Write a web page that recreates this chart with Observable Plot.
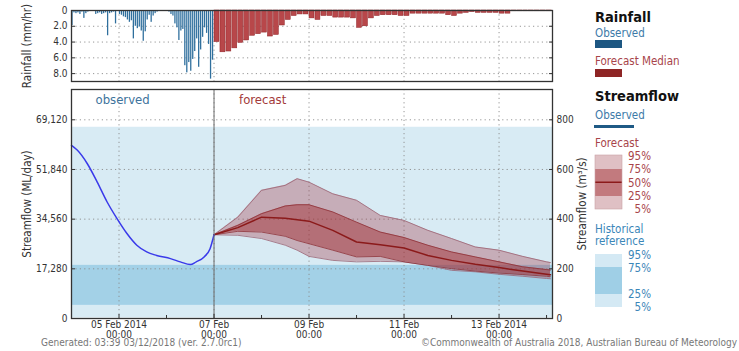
<!DOCTYPE html>
<html><head><meta charset="utf-8">
<script src="https://cdn.jsdelivr.net/npm/d3@7"></script>
<script src="https://cdn.jsdelivr.net/npm/@observablehq/plot@0.6"></script>
<style>
body{margin:0;background:#fff;}
#root{position:relative;width:739px;height:351px;overflow:hidden;font-family:"DejaVu Sans Condensed","DejaVu Sans",sans-serif;}
#root svg{position:absolute;left:0;top:0;}
.foot{position:absolute;font-size:10px;color:#777;white-space:nowrap;line-height:12px;}
</style></head><body><div id="root"></div>
<script>
// ---------- data ----------
const flowTicks = [0, 200, 400, 600, 800];               // m3/s
const rainTicks = [0, 2, 4, 6, 8];                        // mm/hr
const majorTickDays = [5, 7, 9, 11, 13];
const majorTickLabels = ["05 Feb 2014\n00:00", "07 Feb\n00:00", "09 Feb\n00:00", "11 Feb\n00:00", "13 Feb 2014\n00:00"];
const minorTickDays = [6, 8, 10, 12, 14];

// observed streamflow (hours after 04 Feb 00:00, m3/s)
const obsFlowHours = [0, 3, 8, 13, 18, 23, 28, 33, 38, 43, 50, 55, 60, 63, 67, 70, 72];
const obsFlow      = [697, 677, 623, 549, 469, 402, 342, 295, 268, 254, 241, 228, 217, 228, 248, 281, 337];

// forecast streamflow percentiles (hours after 07 Feb 00:00, m3/s)
const fcHours = [0, 12, 24, 36, 42, 48, 60, 72, 84, 96, 108, 120, 132, 144, 156, 168, 170];
const fcP95 = [337, 408, 516, 536, 563, 549, 502, 476, 415, 395, 355, 322, 288, 275, 250, 228, 225];
const fcP75 = [337, 375, 422, 453, 458, 458, 429, 388, 348, 326, 295, 268, 248, 228, 208, 197, 195];
const fcP50 = [337, 366, 408, 404, 398, 392, 355, 308, 297, 284, 254, 234, 218, 205, 191, 178, 176];
const fcP25 = [337, 351, 348, 331, 314, 301, 275, 248, 250, 228, 214, 201, 191, 183, 177, 170, 168];
const fcP5  = [337, 335, 322, 295, 275, 250, 234, 228, 230, 228, 214, 194, 188, 178, 170, 161, 160];

// historical reference percentiles (m3/s)
const histP5 = 2, histP25 = 53, histP75 = 214, histP95 = 770;

// observed rainfall, hourly from 04 Feb 00:00 (mm/hr)
const obsRain = [1.9,0.3,0.4,0.3,0.5,0.2,1.0,0.4,0.2,0.1,0.0,0.1,
  0.5,0.4,0.3,0.5,0.4,0.3,3.2,0.4,0.3,0.2,1.7,0.0,
  0.5,0.6,0.8,0.9,1.2,1.5,1.3,3.6,2.0,2.3,2.1,2.6,
  3.9,2.7,1.2,0.6,1.5,0.7,0.4,0.2,0.1,0.1,0.1,0.0,
  0.1,0.2,0.5,0.7,1.7,2.2,3.8,2.6,2.4,7.0,7.9,6.6,
  7.7,6.2,5.2,3.6,7.2,5.0,3.4,2.2,2.9,4.3,8.7,6.3];
// forecast median rainfall, 3-hourly from 07 Feb 00:00 (mm/hr)
const fcRain = [4.0,5.3,5.2,4.8,4.1,3.8,3.2,3.0,2.8,3.3,3.1,1.9,1.2,0.7,0.5,0.5,1.0,1.2,0.7,0.7,0.9,0.9,0.9,1.0,2.2,2.0,
  1.0,0.7,0.6,0.6,0.6,0.7,0.7,0.4,0.4,0.4,0.4,0.4,0.4,0.6,0.7,0.4,0.3,0.2,0.3,0.3,0.3,0.3,0.4,0.4,0.1,0.1,0.1,0.1,0.1,0.1,0.1];

// legend texts
const legendRain = ["Rainfall", "Observed", "Forecast Median"];
const legendFlow = ["Streamflow", "Observed", "Forecast"];
const fcPctLabels = ["95%", "75%", "50%", "25%", "5%"];
const histTitle = ["Historical", "reference"];
const histPctLabels = ["95%", "75%", "25%", "5%"];
const footLeft = "Generated: 03:39 03/12/2018 (ver. 2.7.0rc1)";
const footRight = "\u00a9Commonwealth of Australia 2018, Australian Bureau of Meteorology";

// ---------- build ----------
const FONT = '"DejaVu Sans Condensed","DejaVu Sans",sans-serif';
const H = 3600e3;
const utc = (d, h = 0) => new Date(Date.UTC(2014, 1, d, h));
const T0 = utc(4), T1 = utc(14, 3), FC0 = utc(7);
const obs = obsFlowHours.map((h, i) => ({t: new Date(+T0 + h * H), v: obsFlow[i]}));
const fc = fcHours.map((h, i) => ({t: new Date(+FC0 + h * H), p5: fcP5[i], p25: fcP25[i], p50: fcP50[i], p75: fcP75[i], p95: fcP95[i]}));
const hist = [{lo: histP5, hi: histP95, c: "#d8ebf4"}, {lo: histP25, hi: histP75, c: "#a3d1e7"}];
const major = majorTickDays.map(d => utc(d));
const minor = minorTickDays.map(d => utc(d));
const labelOf = new Map(major.map((d, i) => [+d, majorTickLabels[i]]));
const rObs = obsRain.map((v, i) => ({t1: new Date(+T0 + i * H), t2: new Date(+T0 + (i + 1) * H), v}));
const rFc = fcRain.map((v, i) => ({t1: new Date(+FC0 + i * 3 * H), t2: new Date(+FC0 + (i + 1) * 3 * H), v}));
const grid = {stroke: "#8a8a8a", strokeOpacity: 1, strokeDasharray: "1.2,3.2", strokeWidth: 0.9};

const root = document.getElementById("root");

const main = Plot.plot({
  width: 739, height: 351, marginLeft: 71, marginRight: 187, marginTop: 89, marginBottom: 33,
  style: {fontFamily: FONT, fontSize: "10px", color: "#333", background: "transparent", overflow: "visible"},
  x: {type: "utc", domain: [T0, T1], axis: null},
  y: {domain: [0, 922], axis: null},
  marks: [
    Plot.rect(hist, {y1: "lo", y2: "hi", fill: "c"}),
    Plot.gridY(flowTicks.slice(1), grid),
    Plot.gridX(major, grid),
    Plot.areaY(fc, {x: "t", y1: "p5", y2: "p95", fill: "#a03040", fillOpacity: 0.33}),
    Plot.lineY(fc, {x: "t", y: "p95", stroke: "#9a6272", strokeWidth: 0.8}),
    Plot.lineY(fc, {x: "t", y: "p5", stroke: "#9a6272", strokeWidth: 0.8}),
    Plot.areaY(fc, {x: "t", y1: "p25", y2: "p75", fill: "#a02c30", fillOpacity: 0.48}),
    Plot.lineY(fc, {x: "t", y: "p75", stroke: "#8e3036", strokeWidth: 0.8}),
    Plot.lineY(fc, {x: "t", y: "p25", stroke: "#8e3036", strokeWidth: 0.8}),
    Plot.lineY(fc, {x: "t", y: "p50", stroke: "#8b1a1a", strokeWidth: 1.5}),
    Plot.lineY(obs, {x: "t", y: "v", stroke: "#3a3aea", strokeWidth: 1.5, curve: "monotone-x"}),
    Plot.ruleX([FC0], {stroke: "#6a6a6a", strokeWidth: 1}),
    Plot.text(["observed"], {frameAnchor: "top-left", dx: 24, dy: 5, textAnchor: "start", lineAnchor: "top", fill: "#3d739c", fontSize: 13}),
    Plot.text([FC0], {x: d => d, frameAnchor: "top", dx: 25, dy: 5, text: () => "forecast", textAnchor: "start", lineAnchor: "top", fill: "#a33a3a", fontSize: 13}),
    Plot.frame({stroke: "#333", strokeWidth: 1.3}),
    Plot.axisY(flowTicks, {anchor: "left", tickSize: -4, tickPadding: 8, tickFormat: d => d3.format(",")(d * 86.4),
      label: "Streamflow (ML/day)", labelAnchor: "center", labelArrow: "none", labelOffset: 49, fontSize: 10}),
    Plot.axisY(flowTicks, {anchor: "right", tickSize: -4, tickPadding: 8, tickFormat: d => String(d),
      label: "Streamflow (m\u00b3/s)", labelAnchor: "center", labelArrow: "none", labelOffset: 33, fontSize: 10}),
    Plot.axisX(major, {anchor: "bottom", tickSize: -4, tickPadding: 7, tickFormat: d => labelOf.get(+d), lineHeight: 0.95, label: null}),
    Plot.axisX(minor, {anchor: "bottom", tickSize: -3, tickFormat: () => "", label: null}),
  ]
});
root.appendChild(main);

const rain = Plot.plot({
  width: 739, height: 82, marginLeft: 71, marginRight: 187, marginTop: 10, marginBottom: 1,
  style: {fontFamily: FONT, fontSize: "10px", color: "#333", background: "transparent", overflow: "visible"},
  x: {type: "utc", domain: [T0, T1], axis: null},
  y: {domain: [0, 9], reverse: true, axis: null},
  marks: [
    Plot.gridY(rainTicks.slice(1), grid),
    Plot.gridX(major, grid),
    Plot.rectY(rObs, {x1: "t1", x2: "t2", y: "v", fill: "#2f6f9d", insetLeft: 0.35, insetRight: 0.35}),
    Plot.rectY(rFc, {x1: "t1", x2: "t2", y: "v", fill: "#b8474a", stroke: "#8e1f22", strokeWidth: 0.5, insetLeft: 0.5, insetRight: 0.5}),
    Plot.frame({stroke: "#333", strokeWidth: 1.3}),
    Plot.axisY(rainTicks, {anchor: "left", tickSize: -4, tickPadding: 8, tickFormat: d => d === 0 ? "0" : d.toFixed(1),
      label: "Rainfall (mm/hr)", labelAnchor: "center", labelArrow: "none", labelOffset: 49, fontSize: 10}),
    Plot.axisY(rainTicks, {anchor: "right", tickSize: -4, tickFormat: () => "", label: null}),
  ]
});
root.appendChild(rain);
// axis titles a little larger than tick labels
d3.select(root).selectAll("g[aria-label='y-axis label'] text").attr("font-size", "11.5px");

// ---------- legend ----------
const lg = d3.select(root).append("svg").attr("width", 739).attr("height", 351)
  .style("font-family", FONT).style("overflow", "visible");
const LX = 595;
const txt = (x, y, s, o = {}) => lg.append("text").attr("x", x).attr("y", y).attr("dy", "0.35em")
  .attr("font-size", o.size || 11.5).attr("font-weight", o.bold ? "bold" : null)
  .attr("fill", o.fill || "#222").attr("text-anchor", o.anchor || "start").text(s);
const box = (x, y, w, h, fill) => lg.append("rect").attr("x", x).attr("y", y).attr("width", w).attr("height", h).attr("fill", fill);

txt(LX, 17, legendRain[0], {size: 14.5, bold: true, fill: "#111"});
txt(LX, 33, legendRain[1], {fill: "#3d7aa8"});
box(LX, 40, 27, 8, "#1d5782");
txt(LX, 61, legendRain[2], {fill: "#a8444a"});
box(LX, 69, 27, 8, "#8e2525");
txt(LX, 96, legendFlow[0], {size: 14.5, bold: true, fill: "#111"});
txt(LX, 115, legendFlow[1], {fill: "#3d7aa8"});
box(LX - 1, 125, 40, 3, "#1f5a85");
txt(LX, 143, legendFlow[2], {fill: "#a8444a"});
box(LX, 155, 27, 54, "#dfc0c4");
box(LX, 169, 27, 27, "#c27a7e");
box(LX, 181.5, 27, 1.5, "#8b1a1a");
lg.append("rect").attr("x", LX).attr("y", 155).attr("width", 27).attr("height", 54).attr("fill", "none").attr("stroke", "#c9a0a6").attr("stroke-width", 0.6);
[156, 169, 183, 196, 209].forEach((y, i) => txt(651, y, fcPctLabels[i], {anchor: "end", fill: "#a8444a"}));
txt(LX, 229, histTitle[0], {fill: "#3b86b8"});
txt(LX, 241, histTitle[1], {fill: "#3b86b8"});
box(LX, 254, 27, 53, "#d4e9f4");
box(LX, 267, 27, 27, "#9fcfe6");
[255, 268, 294, 307].forEach((y, i) => txt(651, y, histPctLabels[i], {anchor: "end", fill: "#3b86b8"}));

// ---------- footer ----------
const f1 = document.createElement("div"); f1.className = "foot"; f1.style.left = "41px"; f1.style.top = "337px"; f1.textContent = footLeft; root.appendChild(f1);
const f2 = document.createElement("div"); f2.className = "foot"; f2.style.right = "2px"; f2.style.top = "337px"; f2.textContent = footRight; root.appendChild(f2);
</script></body></html>
